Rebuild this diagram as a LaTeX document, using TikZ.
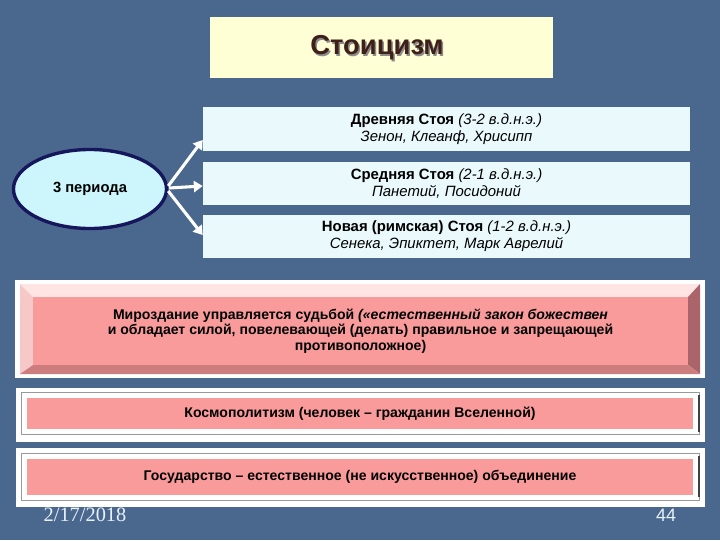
\documentclass[tikz,border=0pt]{standalone}
\usepackage{fontspec}
\setmainfont{Liberation Sans}
\newfontfamily\datefont{Liberation Serif}
\usetikzlibrary{arrows.meta,shapes.geometric,calc}

\definecolor{slide}{RGB}{74,104,142}
\definecolor{titlefill}{RGB}{255,255,214}
\definecolor{titleink}{RGB}{62,32,24}
\definecolor{periodfill}{RGB}{234,249,252}
\definecolor{ovalfill}{RGB}{204,246,252}
\definecolor{ovaledge}{RGB}{22,22,92}
\definecolor{pinkface}{RGB}{250,155,155}
\definecolor{bevellight}{RGB}{255,228,228}
\definecolor{bevelleft}{RGB}{246,200,200}
\definecolor{beveldark}{RGB}{170,100,106}
\definecolor{bevelbottom}{RGB}{205,125,125}
\definecolor{footink}{RGB}{232,240,250}

\begin{document}
\begin{tikzpicture}[
  x=0.025cm,y=-0.025cm,
  every node/.style={font=\fontsize{10}{12}\selectfont},
  titletext/.style={font=\fontsize{19.5}{22}\selectfont\bfseries},
  periodbox/.style={rectangle,fill=periodfill,minimum width=12.175cm,
    minimum height=1.075cm,align=center,inner sep=0pt,
    font=\fontsize{10.6}{12.2}\selectfont},
  pinkbox/.style={rectangle,fill=pinkface,align=center,inner sep=0pt,
    font=\fontsize{10}{11.2}\selectfont\bfseries},
  frame/.style={draw=black!40,line width=0.5pt},
  branch/.style={-{Triangle[length=2.2mm,width=2.8mm]},draw=white,
    line width=2.2pt}
]
  \useasboundingbox (0,0) rectangle (720,540);
  \fill[slide] (0,0) rectangle (720,540);

  % Title.
  \node[rectangle,fill=titlefill,minimum width=8.575cm,
    minimum height=1.525cm] (title) at (381.5,47.5) {};
  \node[titletext,text=black!45] at (378.5,49.5) {Стоицизм};
  \node[titletext,text=titleink] (titlename) at (377,48) {Стоицизм};

  % The three periods.
  \node[periodbox] (ancient) at (446.5,129)
    {\textbf{Древняя Стоя} \textit{(3-2 в.д.н.э.)}\\
     \textit{Зенон, Клеанф, Хрисипп}};
  \node[periodbox] (middle) at (446.5,183.5)
    {\textbf{Средняя Стоя} \textit{(2-1 в.д.н.э.)}\\
     \textit{Панетий, Посидоний}};
  \node[periodbox] (late) at (446.5,236.5)
    {\textbf{Новая (римская) Стоя} \textit{(1-2 в.д.н.э.)}\\
     \textit{Сенека, Эпиктет, Марк Аврелий}};

  \node[ellipse,draw=ovaledge,line width=2.4pt,fill=ovalfill,
    minimum width=3.825cm,minimum height=1.975cm,
    font=\fontsize{10.5}{12}\selectfont\bfseries] (period) at (90,189)
    {3 периода};

  \draw[branch] ($(period.east)+(0,-3)$) -- ($(ancient.west)+(0,11)$);
  \draw[branch] ($(period.east)+(1,-1)$) -- ($(middle.west)+(0,2.5)$);
  \draw[branch] ($(period.east)+(0,2)$) -- ($(late.west)+(0,-1.5)$);

  % Bevelled box.
  \fill[white] (15,280) rectangle (705,378);
  \fill[bevellight] (20,284) -- (700,284) -- (688,297) -- (33,297) -- cycle;
  \fill[bevelleft] (20,284) -- (33,297) -- (33,365) -- (20,374) -- cycle;
  \fill[beveldark] (700,284) -- (700,374) -- (688,365) -- (688,297) -- cycle;
  \fill[bevelbottom] (20,374) -- (700,374) -- (688,365) -- (33,365) -- cycle;
  \node[pinkbox,minimum width=16.375cm,minimum height=1.7cm]
    (fate) at (360.5,331)
    {Мироздание управляется судьбой \textit{(«естественный закон божествен}\\
     и обладает силой, повелевающей (делать) правильное и запрещающей\\
     противоположное)};

  % Framed boxes.
  \fill[white] (16,388) rectangle (705,442);
  \draw[frame] (21,392) rectangle (699,434);
  \draw[black!75,line width=0.8pt] (699,395) -- (699,432);
  \node[pinkbox,minimum width=16.65cm,minimum height=0.775cm]
    (cosmo) at (360,413.5)
    {Космополитизм (человек – гражданин Вселенной)};

  \fill[white] (16,448) rectangle (705,507);
  \draw[frame] (21,453) rectangle (699,500);
  \draw[black!75,line width=0.8pt] (699,456) -- (699,497);
  \node[pinkbox,minimum width=16.65cm,minimum height=0.9cm]
    (state) at (360,477)
    {Государство – естественное (не искусственное) объединение};

  % Footer.
  \node[text=footink,font=\datefont\fontsize{14.5}{16}\selectfont]
    (date) at (85,515) {2/17/2018};
  \node[text=footink,font=\fontsize{12.8}{14}\selectfont]
    (slideno) at (666,515.5) {44};
\end{tikzpicture}
\end{document}
